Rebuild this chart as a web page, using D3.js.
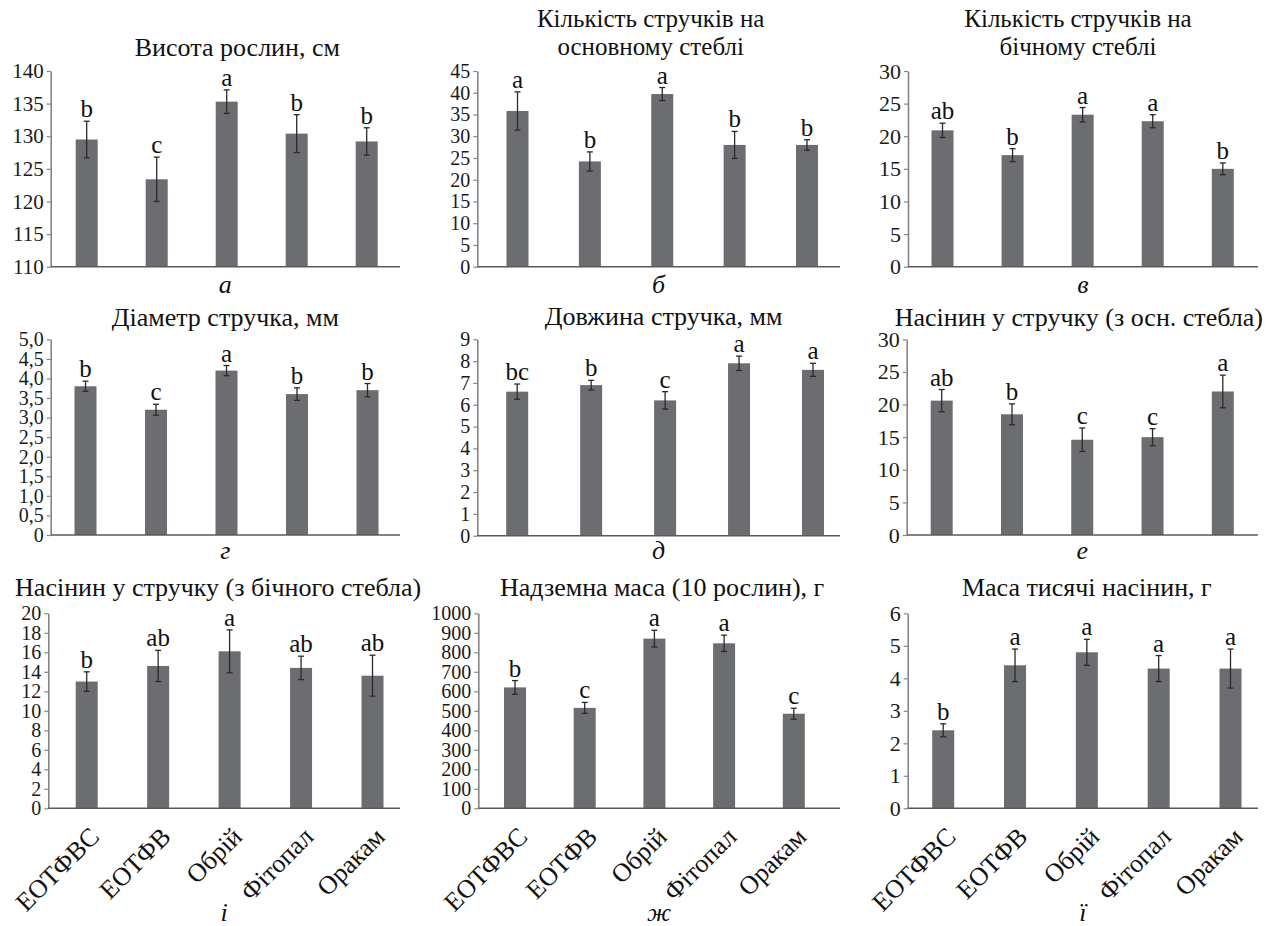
<!DOCTYPE html>
<html>
<head>
<meta charset="utf-8">
<script src="https://cdn.jsdelivr.net/npm/d3@7"></script>
<style>
  html, body { margin: 0; padding: 0; background: #fff; }
  svg { display: block; }
  svg text { font-family: "Liberation Serif", "Tinos", "Times New Roman", "DejaVu Serif", "Noto Serif", serif; }
</style>
</head>
<body>
<svg id="chart" width="1269" height="926"></svg>
<script>
// Treatments (x categories shared by every panel)
const categories = ["ЕОТФВС", "ЕОТФВ", "Обрій", "Фітопал", "Оракам"];

// а — plant height, cm
const plantHeight = [129.5, 123.4, 135.3, 130.4, 129.2];
const plantHeightErr = [2.8, 3.4, 1.8, 2.9, 2.1];
const plantHeightGroups = ["b", "c", "a", "b", "b"];
const plantHeightTicks = [110, 115, 120, 125, 130, 135, 140];
const plantHeightTickLabels = ["110", "115", "120", "125", "130", "135", "140"];

// б — pods on the main stem
const podsMain = [35.8, 24.2, 39.7, 28.0, 28.0];
const podsMainErr = [4.4, 2.2, 1.5, 3.1, 1.2];
const podsMainGroups = ["a", "b", "a", "b", "b"];
const podsMainTicks = [0, 5, 10, 15, 20, 25, 30, 35, 40, 45];
const podsMainTickLabels = ["0", "5", "10", "15", "20", "25", "30", "35", "40", "45"];

// в — pods on the side stem
const podsSide = [20.9, 17.1, 23.3, 22.3, 15.0];
const podsSideErr = [1.1, 1.0, 1.1, 1.0, 0.9];
const podsSideGroups = ["ab", "b", "a", "a", "b"];
const podsSideTicks = [0, 5, 10, 15, 20, 25, 30];
const podsSideTickLabels = ["0", "5", "10", "15", "20", "25", "30"];

// г — pod diameter, mm
const podDiameter = [3.8, 3.2, 4.2, 3.6, 3.7];
const podDiameterErr = [0.13, 0.14, 0.13, 0.16, 0.17];
const podDiameterGroups = ["b", "c", "a", "b", "b"];
const podDiameterTicks = [0, 0.5, 1, 1.5, 2, 2.5, 3, 3.5, 4, 4.5, 5];
const podDiameterTickLabels = ["0", "0,5", "1,0", "1,5", "2,0", "2,5", "3,0", "3,5", "4,0", "4,5", "5,0"];

// д — pod length, mm
const podLength = [6.6, 6.9, 6.2, 7.9, 7.6];
const podLengthErr = [0.35, 0.22, 0.4, 0.33, 0.3];
const podLengthGroups = ["bc", "b", "c", "a", "a"];
const podLengthTicks = [0, 1, 2, 3, 4, 5, 6, 7, 8, 9];
const podLengthTickLabels = ["0", "1", "2", "3", "4", "5", "6", "7", "8", "9"];

// е — seeds per pod, main stem
const seedsMain = [20.6, 18.5, 14.6, 15.0, 22.0];
const seedsMainErr = [1.7, 1.6, 1.8, 1.3, 2.5];
const seedsMainGroups = ["ab", "b", "c", "c", "a"];
const seedsMainTicks = [0, 5, 10, 15, 20, 25, 30];
const seedsMainTickLabels = ["0", "5", "10", "15", "20", "25", "30"];

// і — seeds per pod, side stem
const seedsSide = [13.0, 14.6, 16.1, 14.4, 13.6];
const seedsSideErr = [1.0, 1.6, 2.2, 1.2, 2.1];
const seedsSideGroups = ["b", "ab", "a", "ab", "ab"];
const seedsSideTicks = [0, 2, 4, 6, 8, 10, 12, 14, 16, 18, 20];
const seedsSideTickLabels = ["0", "2", "4", "6", "8", "10", "12", "14", "16", "18", "20"];

// ж — above-ground mass of 10 plants, g
const shootMass = [620, 515, 870, 846, 485];
const shootMassErr = [35, 28, 43, 42, 28];
const shootMassGroups = ["b", "c", "a", "a", "c"];
const shootMassTicks = [0, 100, 200, 300, 400, 500, 600, 700, 800, 900, 1000];
const shootMassTickLabels = ["0", "100", "200", "300", "400", "500", "600", "700", "800", "900", "1000"];

// ї — thousand-seed weight, g
const seedWeight = [2.4, 4.4, 4.8, 4.3, 4.3];
const seedWeightErr = [0.2, 0.5, 0.4, 0.4, 0.6];
const seedWeightGroups = ["b", "a", "a", "a", "a"];
const seedWeightTicks = [0, 1, 2, 3, 4, 5, 6];
const seedWeightTickLabels = ["0", "1", "2", "3", "4", "5", "6"];

const panels = [
  { title: ["Висота рослин, см"], sub: "а", values: plantHeight, errors: plantHeightErr, groups: plantHeightGroups, ticks: plantHeightTicks, tickLabels: plantHeightTickLabels },
  { title: ["Кількість стручків на", "основному стеблі"], sub: "б", values: podsMain, errors: podsMainErr, groups: podsMainGroups, ticks: podsMainTicks, tickLabels: podsMainTickLabels },
  { title: ["Кількість стручків на", "бічному стеблі"], sub: "в", values: podsSide, errors: podsSideErr, groups: podsSideGroups, ticks: podsSideTicks, tickLabels: podsSideTickLabels },
  { title: ["Діаметр стручка, мм"], sub: "г", values: podDiameter, errors: podDiameterErr, groups: podDiameterGroups, ticks: podDiameterTicks, tickLabels: podDiameterTickLabels },
  { title: ["Довжина стручка, мм"], sub: "д", values: podLength, errors: podLengthErr, groups: podLengthGroups, ticks: podLengthTicks, tickLabels: podLengthTickLabels },
  { title: ["Насінин у стручку (з осн. стебла)"], sub: "е", values: seedsMain, errors: seedsMainErr, groups: seedsMainGroups, ticks: seedsMainTicks, tickLabels: seedsMainTickLabels },
  { title: ["Насінин у стручку (з бічного стебла)"], sub: "і", values: seedsSide, errors: seedsSideErr, groups: seedsSideGroups, ticks: seedsSideTicks, tickLabels: seedsSideTickLabels, showCategories: true },
  { title: ["Надземна маса (10 рослин), г"], sub: "ж", values: shootMass, errors: shootMassErr, groups: shootMassGroups, ticks: shootMassTicks, tickLabels: shootMassTickLabels, showCategories: true },
  { title: ["Маса тисячі насінин, г"], sub: "ї", values: seedWeight, errors: seedWeightErr, groups: seedWeightGroups, ticks: seedWeightTicks, tickLabels: seedWeightTickLabels, showCategories: true }
];

// Placement of each small chart on the page
const layout = [
  { left: 50.7,  right: 400,  top: 71,    bottom: 266.7, first: 86.7,  last: 366.7, titleY: [56],     titleDx: 12, subY: 293, tickFont: 21 },
  { left: 477.3, right: 840,  top: 71,    bottom: 266.7, first: 517.5, last: 807,   titleY: [27, 55], titleDx: -8, subY: 293, tickFont: 20 },
  { left: 908,   right: 1258, top: 71,    bottom: 266.7, first: 942.5, last: 1222.8,titleY: [27, 55], titleDx: -5, subY: 293, tickFont: 22 },
  { left: 50.7,  right: 400,  top: 339.3, bottom: 535,   first: 85.5,  last: 367.5, titleY: [326],    titleDx: 0,  subY: 559, tickFont: 20 },
  { left: 477.3, right: 840,  top: 339.3, bottom: 535.7, first: 517.2, last: 813,   titleY: [325],    titleDx: 5,  subY: 559, tickFont: 20 },
  { left: 906.7, right: 1258, top: 339.3, bottom: 535,   first: 941.7, last: 1222.8,titleY: [326],    titleDx: 0,  subY: 559, tickFont: 22 },
  { left: 48.3,  right: 400,  top: 613.3, bottom: 808.3, first: 86.7,  last: 372.5, titleY: [596],    titleDx: -6, subY: 921, tickFont: 20 },
  { left: 478.3, right: 840,  top: 613.3, bottom: 808.3, first: 515,   last: 793.8, titleY: [596],    titleDx: 3,  subY: 921, tickFont: 20 },
  { left: 907.7, right: 1258, top: 613.3, bottom: 808.3, first: 943.2, last: 1230.5,titleY: [596],    titleDx: 4,  subY: 921, tickFont: 22 }
];

const svg = d3.select("#chart");
const BAR_FILL = "#6c6d70";
const BAR_W = 22;
const FONT = "'Liberation Serif', 'Tinos', 'Times New Roman', 'DejaVu Serif', 'Noto Serif', serif";

panels.forEach((p, i) => {
  const L = layout[i];
  const step = (L.last - L.first) / 4;
  const x = d3.scaleBand()
    .domain(categories)
    .range([L.first - step / 2, L.last + step / 2])
    .paddingInner(0).paddingOuter(0);
  const y = d3.scaleLinear()
    .domain([p.ticks[0], p.ticks[p.ticks.length - 1]])
    .range([L.bottom, L.top]);
  const cx = c => x(c) + x.bandwidth() / 2;

  const g = svg.append("g").style("font-family", FONT);

  // bars
  g.selectAll("rect.bar").data(categories).join("rect")
    .attr("class", "bar")
    .attr("x", c => cx(c) - BAR_W / 2)
    .attr("width", BAR_W)
    .attr("y", (c, k) => y(p.values[k]))
    .attr("height", (c, k) => y(p.ticks[0]) - y(p.values[k]))
    .attr("fill", BAR_FILL);

  // y axis
  const yAxis = d3.axisLeft(y)
    .tickValues(p.ticks)
    .tickFormat((d, k) => p.tickLabels[k])
    .tickSize(4)
    .tickSizeOuter(0)
    .tickPadding(3);
  const ya = g.append("g")
    .attr("transform", `translate(${L.left},0)`)
    .call(yAxis)
    .attr("font-family", null)
    .attr("font-size", null);
  ya.select(".domain").attr("stroke", "#858585").attr("stroke-width", 1.6);
  ya.selectAll(".tick line").attr("stroke", "#858585").attr("stroke-width", 1.2);
  ya.selectAll(".tick text")
    .attr("fill", "#1a1a1a")
    .style("font-size", L.tickFont + "px")
    .style("font-family", FONT);

  // x axis baseline
  g.append("line")
    .attr("x1", L.left).attr("x2", L.right)
    .attr("y1", L.bottom).attr("y2", L.bottom)
    .attr("stroke", "#5a5a5a").attr("stroke-width", 1.6);

  // error bars
  const eb = g.selectAll("g.err").data(categories).join("g").attr("class", "err");
  eb.append("line")
    .attr("x1", c => cx(c)).attr("x2", c => cx(c))
    .attr("y1", (c, k) => y(p.values[k] + p.errors[k]))
    .attr("y2", (c, k) => y(p.values[k] - p.errors[k]))
    .attr("stroke", "#2a2a2a").attr("stroke-width", 1.3);
  [1, -1].forEach(sgn => {
    eb.append("line")
      .attr("x1", c => cx(c) - 3).attr("x2", c => cx(c) + 3)
      .attr("y1", (c, k) => y(p.values[k] + sgn * p.errors[k]))
      .attr("y2", (c, k) => y(p.values[k] + sgn * p.errors[k]))
      .attr("stroke", "#2a2a2a").attr("stroke-width", 1.3);
  });

  // significance letters
  g.selectAll("text.grp").data(categories).join("text")
    .attr("class", "grp")
    .attr("x", c => cx(c))
    .attr("y", (c, k) => y(p.values[k] + p.errors[k]) - 4)
    .attr("text-anchor", "middle")
    .attr("fill", "#111")
    .style("font-size", "25px")
    .text((c, k) => p.groups[k]);

  // title (kept inside the page width)
  const mid = (L.left + L.right) / 2 + L.titleDx;
  const titleSize = p.title.length > 1 ? 25 : 26;
  p.title.forEach((line, k) => {
    const t = g.append("text")
      .attr("x", mid)
      .attr("y", L.titleY[k])
      .attr("text-anchor", "middle")
      .attr("fill", "#111")
      .style("font-size", titleSize + "px")
      .text(line);
    const w = t.node().getComputedTextLength();
    if (mid + w / 2 > 1263) t.attr("x", 1263 - w / 2);
  });

  // category labels (bottom row only)
  if (p.showCategories) {
    g.selectAll("text.cat").data(categories).join("text")
      .attr("class", "cat")
      .attr("transform", c => `translate(${cx(c) + 14},${L.bottom + 30}) rotate(-45)`)
      .attr("text-anchor", "end")
      .attr("fill", "#111")
      .style("font-size", "26px")
      .text(c => c);
  }

  // panel letter
  g.append("text")
    .attr("x", (L.left + L.right) / 2)
    .attr("y", L.subY)
    .attr("text-anchor", "middle")
    .attr("fill", "#111")
    .style("font-size", "26px")
    .style("font-style", "italic")
    .text(p.sub);
});
</script>
</body>
</html>
